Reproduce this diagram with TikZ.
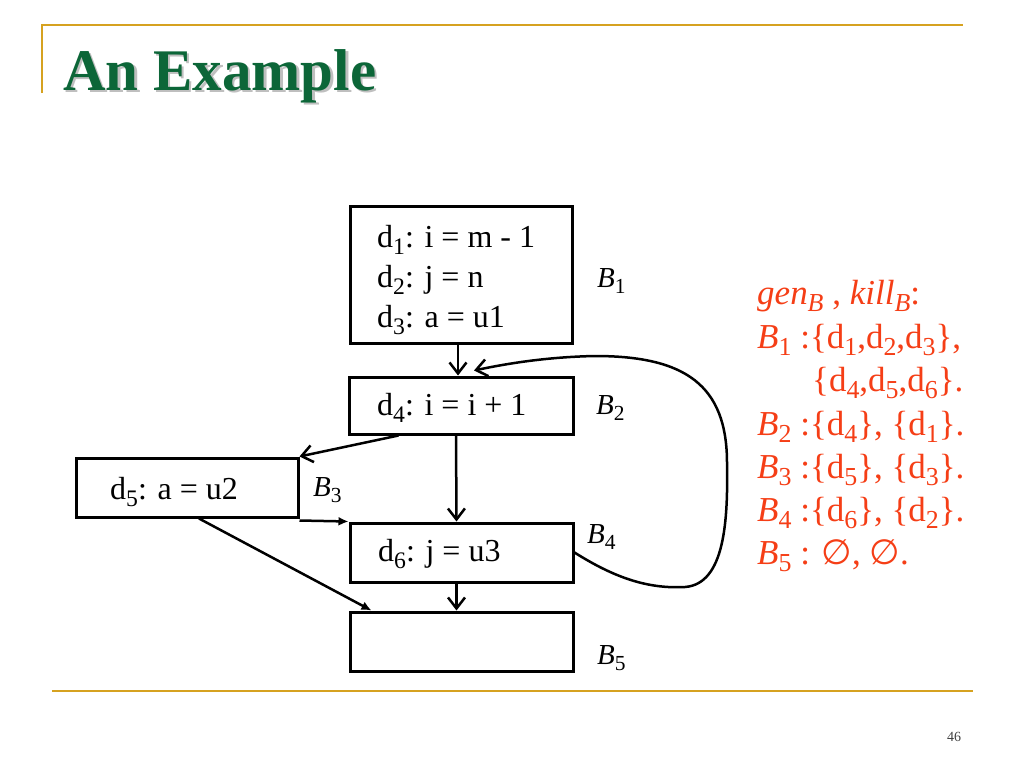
\documentclass[tikz,border=0pt]{standalone}
\usepackage{fontspec}
\usepackage{graphicx}
\setmainfont{Liberation Serif}
\newfontfamily\symfont{DejaVu Sans}
\usetikzlibrary{arrows.meta}
\definecolor{gold}{RGB}{214,162,32}
\definecolor{ttlgreen}{RGB}{12,102,56}
\definecolor{ored}{RGB}{245,62,22}
\newcommand\sub[1]{\raisebox{-0.22em}{\scalebox{0.74}{#1}}}
\newcommand\Bs[1]{\textit{B}\sub{#1}}
\newcommand\ds[1]{d\sub{#1}}
\newcommand\nullset{{\symfont ∅}}
\tikzset{
  blk/.style={draw, line width=3pt, minimum width=#1, inner sep=0pt},
  boxtext/.style={anchor=base west, inner sep=0pt, font=\fontsize{32}{38}\selectfont},
  blabel/.style={anchor=base west, inner sep=0pt, font=\fontsize{29}{34}\selectfont},
  rtext/.style={anchor=base west, inner sep=0pt, text=ored, font=\fontsize{35}{40}\selectfont},
  edge/.style={line width=2.5pt, -{Straight Barb[length=11pt,width=17pt]}},
  fedge/.style={line width=2.5pt, -{Latex[length=10pt,width=9pt]}},
  rule/.style={gold, line width=2.5pt}
}
\begin{document}
\begin{tikzpicture}[x=1pt,y=-1pt]
\useasboundingbox (0,0) rectangle (1024,768);
% frame rules
\coordinate (tl) at (42,25);
\coordinate (tr) at (963,25);
\coordinate (tv) at (42,93);
\draw[rule, line width=2pt] (tv) -- (tl) -- (tr);
\coordinate (bl) at (52,691);
\coordinate (br) at (973,691);
\draw[rule] (bl) -- (br);
% title
\node[anchor=base west, inner sep=0pt, text=black!25, font=\fontsize{59}{64}\selectfont\bfseries] (tsh) at (65.5,92.5) {An Example};
\node[anchor=base west, inner sep=0pt, text=ttlgreen, font=\fontsize{59}{64}\selectfont\bfseries] (title) at (63,90) {An Example};
% page number
\node[anchor=base, inner sep=0pt, text=black!75, font=\fontsize{14}{16}\selectfont] (pg) at (954,741) {46};
% blocks
\node[blk=222pt, minimum height=137pt] (b1) at (461,274.5) {};
\node[blk=224pt, minimum height=57pt] (b2) at (461,405.5) {};
\node[blk=222pt, minimum height=59pt] (b3) at (187,487.5) {};
\node[blk=223pt, minimum height=59pt] (b4) at (461.5,552.5) {};
\node[blk=223pt, minimum height=59pt] (b5) at (461.5,641.5) {};
% block texts
\node[boxtext] (t1) at (377,247) {\ds{1}: i = m - 1};
\node[boxtext] (t2) at (377,287) {\ds{2}: j = n};
\node[boxtext] (t3) at (377,327) {\ds{3}: a = u1};
\node[boxtext] (t4) at (377,415) {\ds{4}: i = i + 1};
\node[boxtext] (t5) at (110,499) {\ds{5}: a = u2};
\node[boxtext] (t6) at (378,561) {\ds{6}: j = u3};
% block labels
\node[blabel] (l1) at (597,287) {\Bs{1}};
\node[blabel] (l2) at (596,414) {\Bs{2}};
\node[blabel] (l3) at (313,496) {\Bs{3}};
\node[blabel] (l4) at (587,543) {\Bs{4}};
\node[blabel] (l5) at (597,664) {\Bs{5}};
% edges
\draw[edge] ([xshift=-3pt]b1.south) -- ([xshift=-3pt]b2.north);
\draw[edge] ([xshift=51pt]b2.south west) -- (b3.north east);
\draw[edge] ([xshift=-5pt]b2.south) -- ([xshift=-5pt]b4.north);
\draw[fedge] ([yshift=-2pt]b3.south east) -- (b4.north west);
\draw[fedge] ([xshift=12pt]b3.south) -- ([xshift=23pt]b5.north west);
\draw[edge] ([xshift=-5pt]b4.south) -- ([xshift=-5pt]b5.north);
\draw[edge] (b4.east) .. controls (615,578) and (648,589) .. (685,587)
  .. controls (725,584) and (728,520) .. (727,463)
  .. controls (727,385) and (685,356) .. (595,356)
  .. controls (545,357) and (505,364) .. ([shift={(13,-5)}]b2.north);
% gen/kill text
\node[rtext] (g0) at (757,304) {\textit{gen}\sub{\textit{B}} , \textit{kill}\sub{\textit{B}}:};
\node[rtext] (g1) at (757,348) {\Bs{1} :\{\ds{1},\ds{2},\ds{3}\},};
\node[rtext] (g2) at (812,391) {\{\ds{4},\ds{5},\ds{6}\}.};
\node[rtext] (g3) at (757,435) {\Bs{2} :\{\ds{4}\}, \{\ds{1}\}.};
\node[rtext] (g4) at (757,478) {\Bs{3} :\{\ds{5}\}, \{\ds{3}\}.};
\node[rtext] (g5) at (757,521) {\Bs{4} :\{\ds{6}\}, \{\ds{2}\}.};
\node[rtext] (g6) at (757,564) {\Bs{5} : \nullset, \nullset.};
\end{tikzpicture}
\end{document}
